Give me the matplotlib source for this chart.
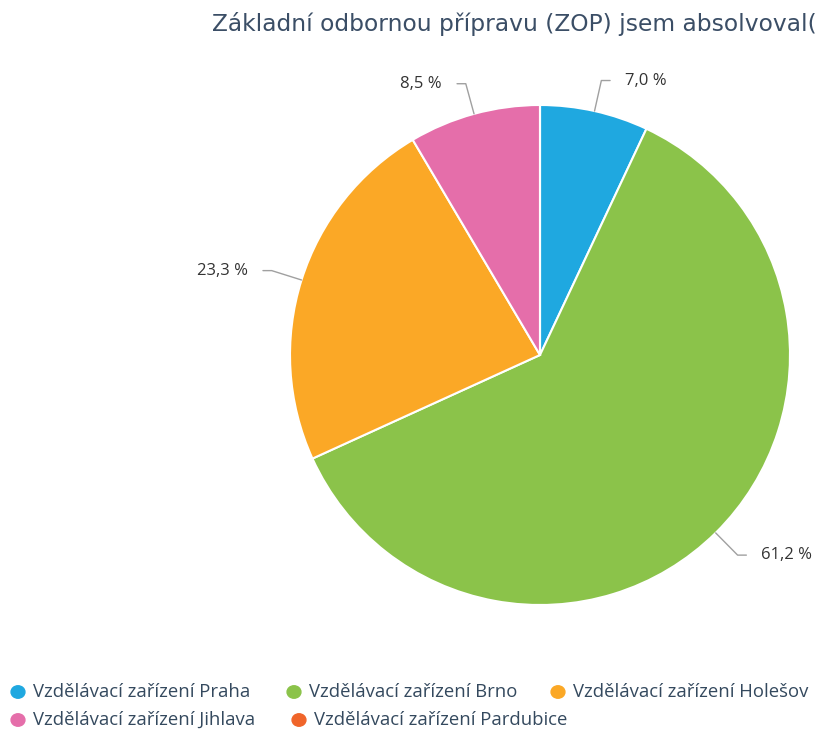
import numpy as np
import matplotlib.pyplot as plt

# data
categories = ['Vzdělávací zařízení Praha', 'Vzdělávací zařízení Brno',
              'Vzdělávací zařízení Holešov', 'Vzdělávací zařízení Jihlava',
              'Vzdělávací zařízení Pardubice']
values = [7.0, 61.2, 23.3, 8.5, 0.0]
colors = ['#1fa8e0', '#8bc34a', '#fba826', '#e56eaa', '#f0652a']
title = 'Základní odbornou přípravu (ZOP) jsem absolvoval('

W, H = 816, 733
fig = plt.figure(figsize=(W / 100, H / 100), dpi=100)

# pie axes: centre (540, 355), radius 250 px
cx, cy, r = 540, 355, 250
ax = fig.add_axes([(cx - r) / W, (H - cy - r) / H, 2 * r / W, 2 * r / H])

wedges, _ = ax.pie(values, colors=colors, startangle=90, counterclock=False,
                   radius=1, wedgeprops=dict(edgecolor='white', linewidth=1.5))
ax.set_xlim(-1, 1)
ax.set_ylim(-1, 1)
ax.set_aspect('equal')
ax.axis('off')

# labels with connectors
total = sum(values)
cum = 0
for v in values:
    if v <= 0:
        cum += v
        continue
    mid = 90 - (cum + v / 2) / total * 360
    cum += v
    a = np.deg2rad(mid)
    px, py = np.cos(a), np.sin(a)
    lx, ly = 1.125 * px, 1.125 * py
    side = 1 if px >= 0 else -1
    ex = lx + side * 0.035
    ax.plot([px * 1.0, px * 1.08, lx, ex], [py * 1.0, py * 1.08, ly, ly],
            color='#a0a0a0', lw=1, clip_on=False, solid_capstyle='round')
    ax.text(ex + side * 0.06, ly, ('%.1f %%' % v).replace('.', ','),
            ha='left' if side > 0 else 'right', va='center',
            fontsize=12, family='Open Sans', color='#333333')

# title
fig.text(212 / W, 1 - 24 / H, title, fontsize=16.8, family='DejaVu Sans',
         color='#3b4e66', ha='left', va='center')

# legend (manual, Highcharts-like flow)
leg_x = [18, 294, 558, 18, 299]
leg_y = [692, 692, 692, 720, 720]
for name, col, x, y in zip(categories, colors, leg_x, leg_y):
    fig.patches.append(plt.Circle((x / W, 1 - y / H), 0.0085, color=col,
                                  transform=fig.transFigure, figure=fig))
    fig.text((x + 15) / W, 1 - y / H, name, fontsize=13.3, family='Open Sans',
             color='#34495e', ha='left', va='center')

plt.savefig('out.png', dpi=100)
